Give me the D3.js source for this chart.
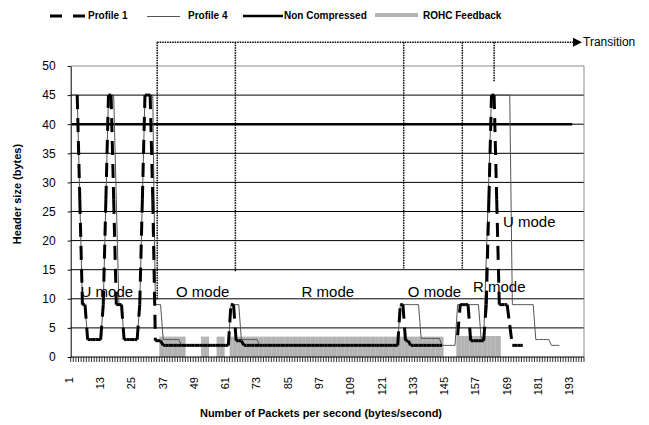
<!DOCTYPE html>
<html>
<head>
<meta charset="utf-8">
<script src="https://cdn.jsdelivr.net/npm/d3@7/dist/d3.min.js"></script>
<style>
body { margin: 0; background: #fff; }
text { font-family: "Liberation Sans", Arial, sans-serif; }
</style>
</head>
<body>
<svg id="chart" width="649" height="425"></svg>
<script>
// packets 1..197 on the category axis
var categories = d3.range(1, 198);
var tickLabels = [1, 13, 25, 37, 49, 61, 73, 85, 97, 109, 121, 133, 145, 157, 169, 181, 193];
var yTicks = [0, 5, 10, 15, 20, 25, 30, 35, 40, 45, 50];

var profile1 = [
    null, null, 45, 27, 9, 9, 3, 3, 3, 3,
    3, 3, 9, 27, 45, 45, 27, 9, 9, 9,
    3, 3, 3, 3, 3, 3, 9, 27, 45, 45,
    45, 27, 2.8, 2.8, 2.8, 2, 2, 2, 2, 2,
    2, 2, 2, 2, 2, 2, 2, 2, 2, 2,
    2, 2, 2, 2, 2, 2, 2, 2, 2, 2,
    2, 9, 9, 2.8, 2.8, 2.8, 2, 2, 2, 2,
    2, 2, 2, 2, 2, 2, 2, 2, 2, 2,
    2, 2, 2, 2, 2, 2, 2, 2, 2, 2,
    2, 2, 2, 2, 2, 2, 2, 2, 2, 2,
    2, 2, 2, 2, 2, 2, 2, 2, 2, 2,
    2, 2, 2, 2, 2, 2, 2, 2, 2, 2,
    2, 2, 2, 2, 2, 2, 9, 9, 2.8, 2.8,
    2, 2, 2, 2, 2, 2, 2, 2, 2, 2,
    2, 2, 2, null, null, null, null, null, 3.7, 9,
    9, 9, 9, 2.8, 2.8, 2.8, 2.8, 2.8, 2.8, 9,
    27, 45, 45, 27, 9, 9, 9, 9, 5.5, 2,
    2, 2, 2, 2, null, null, null, null, null, null,
    null, null, null, null, null, null, null, null, null, null,
    null, null, null, null, null, null, null
];

var profile4 = [
    45, 45, 45, 27, 9, 9, 3, 3, 3, 3,
    3, 3, 9, 27, 45, 45, 45, 27, 9, 9,
    3, 3, 3, 3, 3, 3, 9, 27, 45, 45,
    45, 45, 9, 9, 9, 3, 3, 3, 3, 3,
    3, 3, 2, 2, 2, 2, 2, 2, 2, 2,
    2, 2, 2, 2, 2, 2, 2, 2, 2, 2,
    2, 9, 9, 9, 9, 3, 3, 3, 3, 3,
    3, 3, 2, 2, 2, 2, 2, 2, 2, 2,
    2, 2, 2, 2, 2, 2, 2, 2, 2, 2,
    2, 2, 2, 2, 2, 2, 2, 2, 2, 2,
    2, 2, 2, 2, 2, 2, 2, 2, 2, 2,
    2, 2, 2, 2, 2, 2, 2, 2, 2, 2,
    2, 2, 2, 2, 2, 2, 9, 9, 9, 9,
    9, 9, 9, 9, 3.2, 3.2, 3.2, 3.2, 3.2, 3.2,
    3.2, 3.2, 2, 2, 2, 2, 2, 2, 9, 9,
    9, 9, 9, 9, 9, 9, 9, 3.2, 3.2, 17,
    31, 45, 45, 45, 45, 45, 45, 45, 45, 9,
    9, 9, 9, 9, 9, 9, 9, 9, 3, 3,
    3, 3, 3, 3, 2, 2, 2, 2, null, null,
    null, null, null, null, null, null, null
];

var nonCompressed = [
    40, 40, 40, 40, 40, 40, 40, 40, 40, 40,
    40, 40, 40, 40, 40, 40, 40, 40, 40, 40,
    40, 40, 40, 40, 40, 40, 40, 40, 40, 40,
    40, 40, 40, 40, 40, 40, 40, 40, 40, 40,
    40, 40, 40, 40, 40, 40, 40, 40, 40, 40,
    40, 40, 40, 40, 40, 40, 40, 40, 40, 40,
    40, 40, 40, 40, 40, 40, 40, 40, 40, 40,
    40, 40, 40, 40, 40, 40, 40, 40, 40, 40,
    40, 40, 40, 40, 40, 40, 40, 40, 40, 40,
    40, 40, 40, 40, 40, 40, 40, 40, 40, 40,
    40, 40, 40, 40, 40, 40, 40, 40, 40, 40,
    40, 40, 40, 40, 40, 40, 40, 40, 40, 40,
    40, 40, 40, 40, 40, 40, 40, 40, 40, 40,
    40, 40, 40, 40, 40, 40, 40, 40, 40, 40,
    40, 40, 40, 40, 40, 40, 40, 40, 40, 40,
    40, 40, 40, 40, 40, 40, 40, 40, 40, 40,
    40, 40, 40, 40, 40, 40, 40, 40, 40, 40,
    40, 40, 40, 40, 40, 40, 40, 40, 40, 40,
    40, 40, 40, 40, 40, 40, 40, 40, 40, 40,
    40, 40, 40, null, null, null, null
];

var feedback = [
    0, 0, 0, 0, 0, 0, 0, 0, 0, 0,
    0, 0, 0, 0, 0, 0, 0, 0, 0, 0,
    0, 0, 0, 0, 0, 0, 0, 0, 0, 0,
    0, 0, 0, 0, 3.5, 3.5, 3.5, 3.5, 3.5, 3.5,
    3.5, 3.5, 3.5, 3.5, 0, 0, 0, 0, 0, 0,
    3.5, 3.5, 3.5, 0, 0, 0, 3.5, 3.5, 3.5, 0,
    0, 3.5, 3.5, 3.5, 3.5, 3.5, 3.5, 3.5, 3.5, 3.5,
    3.5, 3.5, 3.5, 3.5, 3.5, 3.5, 3.5, 3.5, 3.5, 3.5,
    3.5, 3.5, 3.5, 3.5, 3.5, 3.5, 3.5, 3.5, 3.5, 3.5,
    3.5, 3.5, 3.5, 3.5, 3.5, 3.5, 3.5, 3.5, 3.5, 3.5,
    3.5, 3.5, 3.5, 3.5, 3.5, 3.5, 3.5, 3.5, 3.5, 3.5,
    3.5, 3.5, 3.5, 3.5, 3.5, 3.5, 3.5, 3.5, 3.5, 3.5,
    3.5, 3.5, 3.5, 3.5, 3.5, 3.5, 3.5, 3.5, 3.5, 3.5,
    3.5, 3.5, 3.5, 3.5, 3.5, 3.5, 3.5, 3.5, 3.5, 3.5,
    3.5, 3.5, 3.5, 0, 0, 0, 0, 0, 3.6, 3.6,
    3.6, 3.6, 3.6, 3.6, 3.6, 3.6, 3.6, 3.6, 3.6, 3.6,
    3.6, 3.6, 3.6, 3.6, 3.6, 0, 0, 0, 0, 0,
    0, 0, 0, 0, 0, 0, 0, 0, 0, 0,
    0, 0, 0, 0, 0, 0, 0, 0, 0, 0,
    0, 0, 0, 0, 0, 0, 0
];

// transition markers: category position and where the dotted line stops
var transitionAt = [33.7, 63.7, 128.3, 150.8, 163];
var transitionEnd = [9.8, 14.7, 15.2, 15.2, 47.3];

var modeLabels = ["U mode", "O mode", "R mode", "O mode", "R mode", "U mode"];
var modeCat = [4.3, 40.9, 89.1, 129.9, 154.9, 166.4];
var modeVal = [10.3, 10.3, 10.3, 10.3, 11.15, 22.3];

var svg = d3.select("#chart");

var x = d3.scaleLinear().domain([0.5, 197.5]).range([70.7, 584]);
var y = d3.scaleLinear().domain([0, 50]).range([357, 66]);
var step = x(2) - x(1);

// grid
svg.append("g").selectAll("line").data(yTicks.filter(function(d) { return d > 0 && d < 50; }))
    .enter().append("line")
    .attr("x1", x(0.5)).attr("x2", x(197.5))
    .attr("y1", function(d) { return y(d); }).attr("y2", function(d) { return y(d); })
    .attr("stroke", "#000").attr("stroke-width", 1);
svg.append("line").attr("x1", x(0.5)).attr("x2", x(197.5)).attr("y1", y(50)).attr("y2", y(50))
    .attr("stroke", "#8a8a8a").attr("stroke-width", 1);
svg.append("line").attr("x1", x(197.5)).attr("x2", x(197.5)).attr("y1", y(50)).attr("y2", y(0))
    .attr("stroke", "#8a8a8a").attr("stroke-width", 1);

// ROHC feedback columns
svg.append("g").selectAll("rect").data(categories.filter(function(c) { return feedback[c - 1] > 0; }))
    .enter().append("rect")
    .attr("x", function(c) { return x(c - 0.5); })
    .attr("width", step + 0.2)
    .attr("y", function(c) { return y(feedback[c - 1]); })
    .attr("height", function(c) { return y(0) - y(feedback[c - 1]); })
    .attr("fill", "#b3b3b3");

// non compressed
var line = d3.line()
    .defined(function(d) { return d.v != null; })
    .x(function(d) { return x(d.c); })
    .y(function(d) { return y(d.v); });

svg.append("path")
    .attr("d", line(categories.map(function(c) { return {c: c, v: nonCompressed[c - 1]}; })))
    .attr("fill", "none").attr("stroke", "#000").attr("stroke-width", 2.6);

// profile 4
svg.append("path")
    .attr("d", line(categories.map(function(c) { return {c: c, v: profile4[c - 1]}; })))
    .attr("fill", "none").attr("stroke", "#555").attr("stroke-width", 1);

// profile 1, dash pattern restarts on each segment like the original
var segs = [];
for (var i = 0; i < profile1.length - 1; ++i) {
    if (profile1[i] != null && profile1[i + 1] != null) {
        segs.push({c0: categories[i], v0: profile1[i], c1: categories[i + 1], v1: profile1[i + 1]});
    }
}
svg.append("g").selectAll("line").data(segs)
    .enter().append("line")
    .attr("x1", function(d) { return x(d.c0); })
    .attr("y1", function(d) { return y(d.v0); })
    .attr("x2", function(d) { return x(d.c1); })
    .attr("y2", function(d) { return y(d.v1); })
    .attr("stroke", "#000").attr("stroke-width", 3)
    .attr("stroke-dasharray", "14,9");

// axes
var yAxis = svg.append("g").attr("transform", "translate(" + x(0.5) + ",0)")
    .call(d3.axisLeft(y).tickValues(yTicks).tickSize(3).tickSizeOuter(0).tickPadding(12));
yAxis.select(".domain").attr("stroke", "#000");
yAxis.selectAll("text").attr("font-size", 12).attr("font-family", "Liberation Sans, Arial, sans-serif").attr("fill", "#000");

svg.append("line").attr("x1", x(0.5)).attr("x2", x(197.5)).attr("y1", y(0)).attr("y2", y(0))
    .attr("stroke", "#000").attr("stroke-width", 1);
svg.append("g").selectAll("line").data(categories.concat([198]))
    .enter().append("line")
    .attr("x1", function(c) { return x(c - 0.5); })
    .attr("x2", function(c) { return x(c - 0.5); })
    .attr("y1", y(0)).attr("y2", y(0) + 5)
    .attr("stroke", "#000").attr("stroke-width", 0.8);

svg.append("g").selectAll("text").data(tickLabels)
    .enter().append("text")
    .attr("transform", function(d) { return "translate(" + (x(d) - 3) + ",377) rotate(-90)"; })
    .attr("text-anchor", "end")
    .attr("dy", "0.35em")
    .attr("font-size", 11)
    .text(function(d) { return d; });

svg.append("text")
    .attr("transform", "translate(17," + 194 + ") rotate(-90)")
    .attr("text-anchor", "middle").attr("dy", "0.35em")
    .attr("font-size", 11).attr("font-weight", "bold")
    .text("Header size (bytes)");

svg.append("text")
    .attr("x", 321).attr("y", 417)
    .attr("text-anchor", "middle")
    .attr("font-size", 11).attr("font-weight", "bold")
    .text("Number of Packets per second (bytes/second)");

// transitions
var topY = y(54.1);
svg.append("line")
    .attr("x1", x(transitionAt[0])).attr("x2", 574)
    .attr("y1", topY).attr("y2", topY)
    .attr("stroke", "#000").attr("stroke-width", 1.5).attr("stroke-dasharray", "1.5,1");
svg.append("g").selectAll("line").data(transitionAt)
    .enter().append("line")
    .attr("x1", function(d) { return x(d); }).attr("x2", function(d) { return x(d); })
    .attr("y1", topY)
    .attr("y2", function(d, i) { return y(transitionEnd[i]); })
    .attr("stroke", "#000").attr("stroke-width", 1.5).attr("stroke-dasharray", "1.5,1");
svg.append("path")
    .attr("d", "M573," + (topY - 4.5) + "L582," + topY + "L573," + (topY + 4.5) + "Z")
    .attr("fill", "#000");
svg.append("text")
    .attr("x", 583).attr("y", topY).attr("dy", "0.35em")
    .attr("font-size", 12)
    .text("Transition");

svg.append("g").selectAll("text").data(modeLabels)
    .enter().append("text")
    .attr("x", function(d, i) { return x(modeCat[i]); })
    .attr("y", function(d, i) { return y(modeVal[i]); })
    .attr("font-size", 15)
    .text(function(d) { return d; });

// legend
var legend = svg.append("g").attr("font-size", 10).attr("font-weight", "bold");
legend.append("line").attr("x1", 50).attr("x2", 86).attr("y1", 16).attr("y2", 16)
    .attr("stroke", "#000").attr("stroke-width", 3).attr("stroke-dasharray", "12,11");
legend.append("text").attr("x", 88).attr("y", 19).text("Profile 1");
legend.append("line").attr("x1", 147).attr("x2", 180).attr("y1", 16.5).attr("y2", 16.5)
    .attr("stroke", "#555").attr("stroke-width", 1);
legend.append("text").attr("x", 188).attr("y", 19).text("Profile 4");
legend.append("line").attr("x1", 243).attr("x2", 283).attr("y1", 16).attr("y2", 16)
    .attr("stroke", "#000").attr("stroke-width", 2.6);
legend.append("text").attr("x", 284).attr("y", 19).text("Non Compressed");
legend.append("line").attr("x1", 375).attr("x2", 418).attr("y1", 15).attr("y2", 15)
    .attr("stroke", "#b3b3b3").attr("stroke-width", 4);
legend.append("text").attr("x", 423).attr("y", 18.5).text("ROHC Feedback");
</script>
</body>
</html>
